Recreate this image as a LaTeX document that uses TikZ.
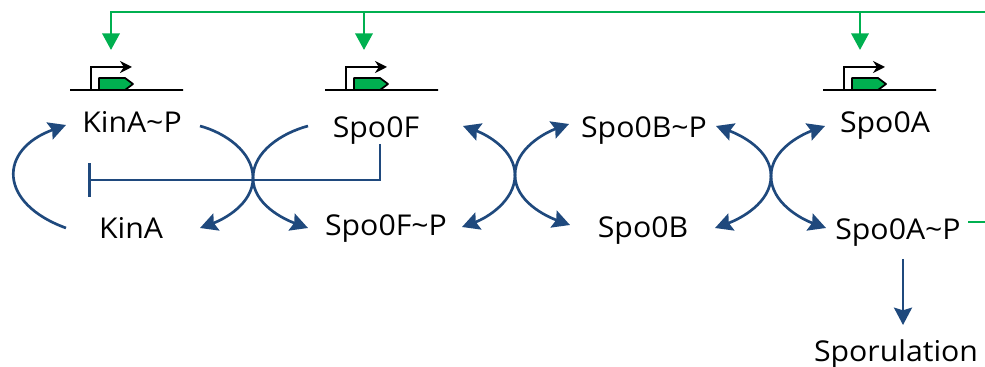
\documentclass[tikz,border=0pt]{standalone}
\usepackage{xcolor}
\usepackage{fontspec}
\setsansfont[FakeStretch=1.055]{Open Sans}
\usepackage{tikz}
\usetikzlibrary{arrows.meta, positioning}

\definecolor{flowblue}{HTML}{1F497D}
\definecolor{genegreen}{HTML}{00B050}

% promoter arrow and gene on top of a baseline node
\newcommand{\promoter}[1]{
    \draw [bent] ([xshift=-26.6pt]#1.center) |- ([shift={(5.5,23)}]#1.center);
    \draw [gene] ([xshift=-20.6pt]#1.center) -- ([shift={(-27.5,12)}]#1.center) -- ([shift={(-1.5,12)}]#1.center) -- ([shift={(6.5,6)}]#1.center) -- ([shift={(-1.5,0)}]#1.center) -- cycle;
}

\begin{document}
\begin{tikzpicture}[x=0.75pt, y=0.75pt, font=\sffamily\fontsize{21.5}{25}\selectfont]
    \tikzstyle{species} = [inner sep=0pt, text height=16.5pt, text depth=0pt]
    \tikzstyle{genebase} = [draw, rectangle, inner sep=0pt, minimum width=84.75pt, minimum height=0pt, line width=1.9pt]
    \tikzstyle{bent} = [black, line width=1.9pt, -{Stealth[length=9pt, width=9pt]}]
    \tikzstyle{gene} = [draw=black, fill=genegreen, line width=1.3pt, line join=round]
    \tikzstyle{flow} = [flowblue, line width=2pt, looseness=0.9, >={Stealth[length=13pt, width=13.5pt, inset=2pt]}]
    \tikzstyle{signal} = [genegreen, line width=2pt, >={Triangle[length=12.5pt, width=13pt]}]

    \useasboundingbox (0,0) rectangle (985,367);

    \node [species] (kinAP) at (132,245) {KinA\textasciitilde P};
    \node [species] (kinA) at (131,139) {KinA};
    \node [species] (spoF) at (376,240) {Spo0F};
    \node [species] (spoFP) at (386,142) {Spo0F\textasciitilde P};
    \node [species] (spoBP) at (644,240) {Spo0B\textasciitilde P};
    \node [species] (spoB) at (643,140) {Spo0B};
    \node [species] (spoA) at (885,245) {Spo0A};
    \node [species] (spoAP) at (898,138) {Spo0A\textasciitilde P};
    \node [species] (sporulation) at (896,16) {Sporulation};

    \node [genebase] (kinAgene) at (126.5,277) {};
    \node [genebase] (spoFgene) at (381.5,277) {};
    \node [genebase] (spoAgene) at (879.5,277) {};
    \promoter{kinAgene}
    \promoter{spoFgene}
    \promoter{spoAgene}

    \coordinate (hubA) at (253,189);
    \coordinate (hubB) at (515,192);
    \coordinate (hubC) at (771,191);
    \coordinate (topEnd) at (985,355);
    \coordinate (topF) at (364,355);
    \coordinate (topA) at (860,355);
    \coordinate (stubEnd) at (985,145);
    \coordinate (inhibitEnd) at (88,187);

    % feedback from the right
    \draw [signal, ->] (topEnd) -| ([shift={(-15.5,40)}]kinAgene.center);
    \draw [signal, ->] (topF) -- ([shift={(-17.5,40)}]spoFgene.center);
    \draw [signal, ->] (topA) -- ([shift={(-19.5,40)}]spoAgene.center);
    \draw [signal] ([shift={(70,7)}]spoAP.center) -- (stubEnd);

    \draw [flow, ->] ([shift={(-65,0)}]kinA.center) to[out=160, in=200, looseness=1.8] ([shift={(-66,-3)}]kinAP.center);
    \draw [flow, ->] ([shift={(68,-4)}]kinAP.center) to[out=-15, in=90] (hubA) to[out=-90, in=20] ([shift={(69,0)}]kinA.center);
    \draw [flow, ->] ([shift={(-68,1)}]spoF.center) to[out=195, in=90] (hubA) to[out=-90, in=160] ([shift={(-78,-3)}]spoFP.center);
    \draw [flow, -{Bar[width=25pt, length=0pt]}] ([shift={(4,-17)}]spoF.center) |- (inhibitEnd);

    \draw [flow, <->] ([shift={(87,1)}]spoF.center) to[out=-20, in=90] (hubB) to[out=-90, in=20] ([shift={(76,-2)}]spoFP.center);
    \draw [flow, <->] ([shift={(-75,3)}]spoBP.center) to[out=200, in=90] (hubB) to[out=-90, in=160] ([shift={(-73,2)}]spoB.center);

    \draw [flow, <->] ([shift={(72,1)}]spoBP.center) to[out=-20, in=90] (hubC) to[out=-90, in=20] ([shift={(72,-1)}]spoB.center);
    \draw [flow, <->] ([shift={(-60,-4)}]spoA.center) to[out=200, in=90] (hubC) to[out=-90, in=160] ([shift={(-72,1)}]spoAP.center);

    \draw [flow, ->] ([shift={(5,-30)}]spoAP.center) -- ([shift={(7,26)}]sporulation.center);
\end{tikzpicture}
\end{document}
